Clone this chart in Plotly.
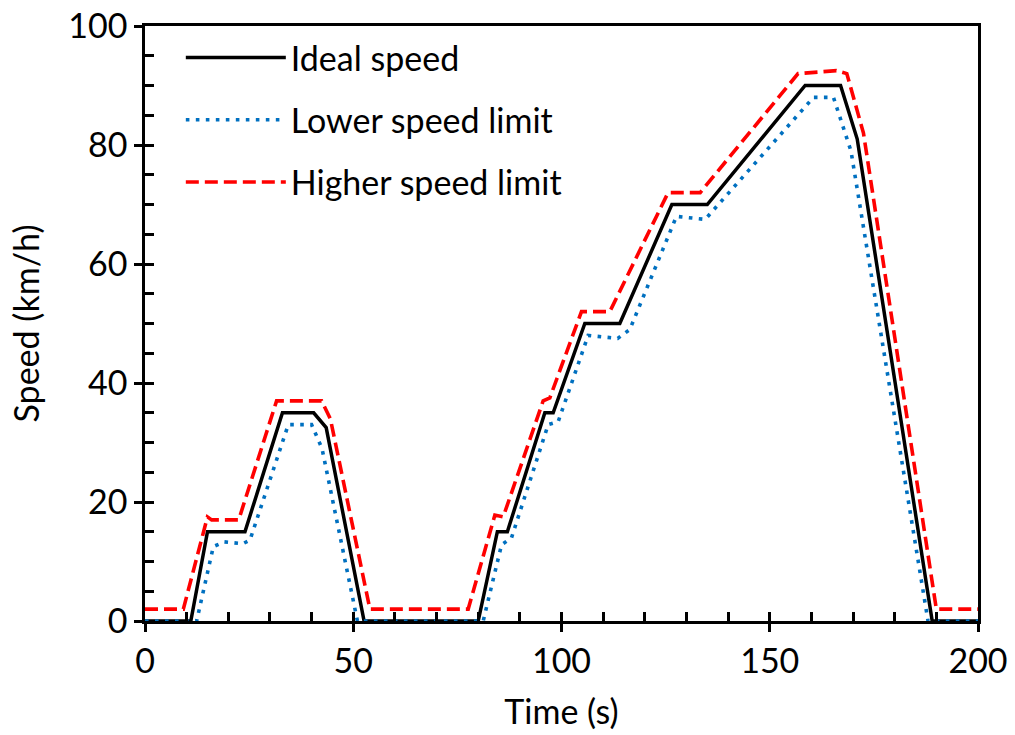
import plotly.graph_objects as go

# Ideal speed profile (time s, speed km/h)
time_ideal = [0, 11, 15, 24, 33, 40.5, 43.5, 52.6, 80, 84.6, 87, 96, 98, 105.6, 114,
              126.5, 135, 158.5, 167, 171, 189, 200]
speed_ideal = [0, 0, 15, 15, 35, 35, 32.5, 0, 0, 15, 15, 35, 35, 50, 50,
               70, 70, 90, 90, 81, 0, 0]

# Lower speed limit
time_lower = [0, 12.4, 16.4, 19, 23.5, 25.2, 34.4, 40, 42.5, 51, 81.2, 85.6, 88, 96.8,
              99.2, 106.4, 113.5, 116.4, 127.6, 134.5, 160.5, 165.3, 169.5, 188, 200]
speed_lower = [0, 0, 12.5, 13.3, 13, 13.6, 33, 33, 29, 0, 0, 12.8, 14, 33,
               33.5, 48, 47.5, 49, 68, 67.5, 88, 88, 79, 0, 0]

# Higher speed limit
time_higher = [0, 9.2, 15, 16, 22.5, 31.6, 42.4, 44.5, 54, 77.6, 84, 86, 95.6, 97.2,
               104.8, 111.6, 125.6, 133.3, 156.8, 166, 168.5, 172.5, 190, 200]
speed_higher = [2, 2, 17.5, 17, 17, 37, 37, 34, 2, 2, 17.8, 17.5, 37, 37.5,
                52, 52, 72, 72, 92, 92.5, 92, 82, 2, 2]

FONT = "Lato"
FS = 34

fig = go.Figure()
fig.add_trace(go.Scatter(x=time_ideal, y=speed_ideal, mode="lines", name="Ideal speed",
                         legendgroup="a",
                         line=dict(color="#000000", width=3.5)))
fig.add_trace(go.Scatter(x=time_lower, y=speed_lower, mode="lines", name="Lower speed limit",
                         legendgroup="b",
                         line=dict(color="#0070C0", width=3.6, dash="3.6px,6.4px")))
fig.add_trace(go.Scatter(x=time_higher, y=speed_higher, mode="lines", name="Higher speed limit",
                         legendgroup="c",
                         line=dict(color="#FF0000", width=3.6, dash="13px,6px")))

axis_common = dict(showgrid=False, zeroline=False, linecolor="#000000", linewidth=2.5,
                   tickcolor="#000000", tickwidth=2.5, automargin=False,
                   tickfont=dict(family=FONT, size=FS, color="#000000"))

fig.update_layout(
    width=1015, height=735,
    margin=dict(l=145, r=37, t=26, b=114, autoexpand=False),
    paper_bgcolor="white", plot_bgcolor="white",
    font=dict(family=FONT, size=FS, color="#000000"),
    showlegend=True,
    legend=dict(x=0.043, y=0.995, xanchor="left", yanchor="top",
                bgcolor="rgba(0,0,0,0)", borderwidth=0,
                font=dict(family=FONT, size=FS, color="#000000"),
                itemwidth=100, tracegroupgap=15),
    xaxis=dict(range=[0, 200], dtick=50, tick0=0, ticks="outside", ticklen=8,
               mirror=True, showline=True,
               title=dict(text="Time (s)", font=dict(family=FONT, size=FS), standoff=22),
               **axis_common),
    yaxis=dict(range=[0, 100], dtick=20, tick0=0, ticks="outside", ticklen=8,
               mirror=True, showline=True,
               title=dict(text="Speed (km/h)", font=dict(family=FONT, size=FS), standoff=19),
               **axis_common),
    xaxis2=dict(overlaying="x", anchor="y", side="bottom", range=[0, 200], dtick=10, tick0=0,
                ticks="inside", ticklen=9, tickwidth=2.5, tickcolor="#000000", automargin=False,
                showticklabels=False, showgrid=False, zeroline=False, showline=False),
    yaxis2=dict(overlaying="y", anchor="x", side="left", range=[0, 100], dtick=5, tick0=0,
                ticks="inside", ticklen=9, tickwidth=2.5, tickcolor="#000000", automargin=False,
                showticklabels=False, showgrid=False, zeroline=False, showline=False),
)

# invisible helper trace so the overlay axes render their ticks
fig.add_trace(go.Scatter(x=[None], y=[None], xaxis="x2", yaxis="y2", showlegend=False,
                         hoverinfo="skip"))

fig.write_html("out.html")
